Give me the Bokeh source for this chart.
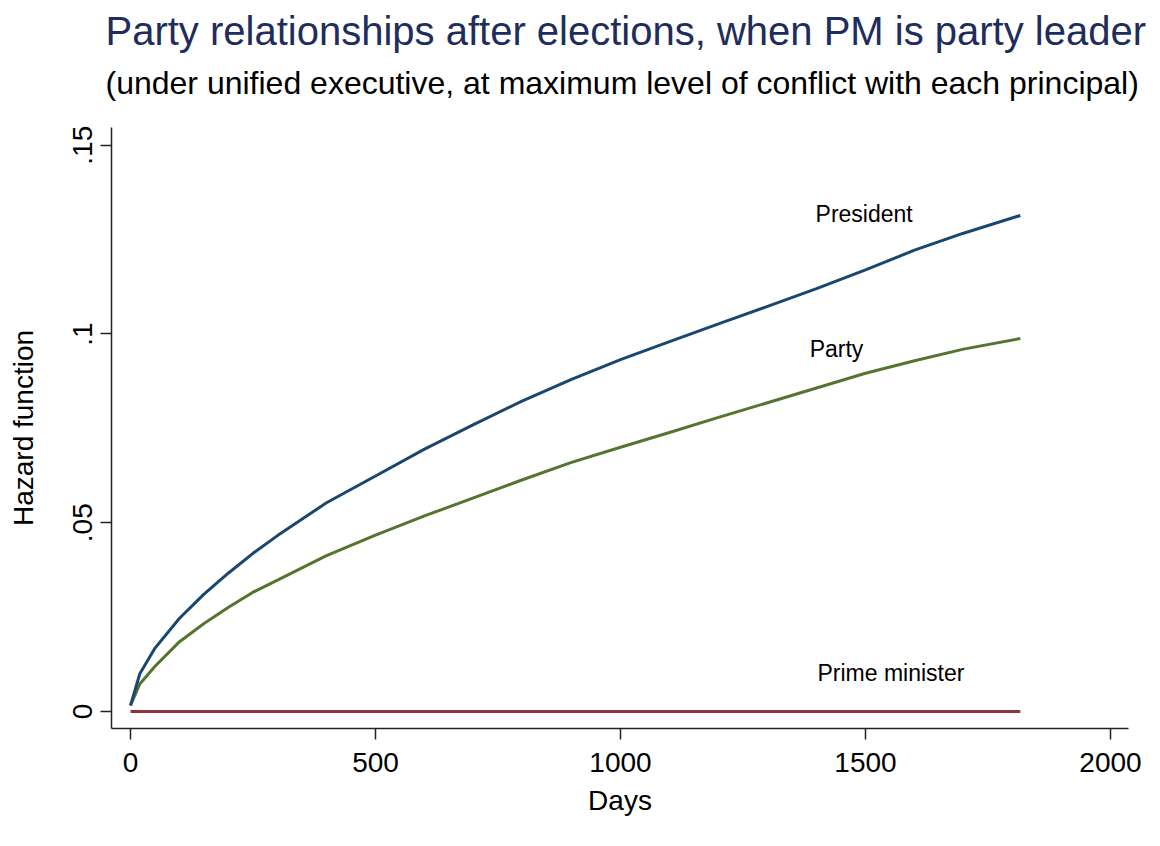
from bokeh.plotting import figure
from bokeh.models import Title, Range1d, FixedTicker, CustomJSTickFormatter, Label
from bokeh.embed import file_html
from bokeh.resources import INLINE

# ---- data ----
days = [0, 19, 50, 100, 150, 200, 250, 300, 400, 500, 600, 700, 800, 900,
        1000, 1100, 1200, 1300, 1400, 1500, 1600, 1700, 1816]
president = [0.0016, 0.0100, 0.0168, 0.0247, 0.0311, 0.0367, 0.0419, 0.0466,
             0.0553, 0.0624, 0.0695, 0.0760, 0.0823, 0.0880, 0.0932, 0.0980,
             0.1027, 0.1073, 0.1120, 0.1170, 0.1222, 0.1267, 0.1314]
party = [0.0016, 0.0073, 0.0120, 0.0185, 0.0233, 0.0276, 0.0316, 0.0348,
         0.0413, 0.0467, 0.0518, 0.0566, 0.0614, 0.0660, 0.0700, 0.0739,
         0.0779, 0.0818, 0.0857, 0.0896, 0.0929, 0.0960, 0.0988]
prime_minister = [0.0] * len(days)

x_ticks = [0, 500, 1000, 1500, 2000]
y_ticks = [0, 0.05, 0.1, 0.15]

title_text = "Party relationships after elections, when PM is party leader"
subtitle_text = "(under unified executive, at maximum level of conflict with each principal)"

FONT = "Liberation Sans"

p = figure(width=1155, height=840,
           x_range=Range1d(-38.8, 2036.7), y_range=Range1d(-0.0045, 0.1547),
           output_backend="svg", toolbar_location=None,
           min_border_left=111, min_border_right=27,
           min_border_bottom=112, min_border_top=127)

p.outline_line_color = None
p.xgrid.visible = False
p.ygrid.visible = False
p.background_fill_color = "white"
p.border_fill_color = "white"

# titles (added closest-first); first one is an empty spacer
p.add_layout(Title(text=" ", text_font_size="9px", text_font=FONT), "above")
p.add_layout(Title(text=subtitle_text, text_font_size="32px", text_font=FONT,
                   text_font_style="normal", text_color="black",
                   align="left", offset=-6), "above")
p.add_layout(Title(text=title_text, text_font_size="40px", text_font=FONT,
                   text_font_style="normal", text_color="#1e2d5c",
                   align="left", offset=-6), "above")

# lines
p.line(days, prime_minister, line_color="#90353b", line_width=3)
p.line(days, party, line_color="#55752f", line_width=3)
p.line(days, president, line_color="#1a476f", line_width=3)

for txt, xx, yy in [("President", 1398, 0.1317), ("Party", 1386, 0.0959),
                    ("Prime minister", 1402, 0.0103)]:
    p.add_layout(Label(x=xx, y=yy, text=txt, text_font=FONT, text_font_size="23px",
                       text_align="left", text_baseline="middle", text_color="black"))

for ax in (p.xaxis[0], p.yaxis[0]):
    ax.axis_line_color = "#222222"
    ax.axis_line_width = 1.5
    ax.major_tick_line_color = "#222222"
    ax.major_tick_line_width = 1.5
    ax.minor_tick_line_color = None
    ax.major_tick_in = 0
    ax.major_tick_out = 11
    ax.major_label_text_font = FONT
    ax.major_label_text_font_size = "28px"
    ax.major_label_text_color = "black"
    ax.axis_label_text_font = FONT
    ax.axis_label_text_font_size = "28px"
    ax.axis_label_text_font_style = "normal"
    ax.axis_label_text_color = "black"

p.xaxis.ticker = FixedTicker(ticks=x_ticks)
p.xaxis.axis_label = "Days"
p.xaxis.major_label_standoff = 13
p.xaxis.axis_label_standoff = 10

p.yaxis.ticker = FixedTicker(ticks=y_ticks)
p.yaxis.formatter = CustomJSTickFormatter(code="""
    if (tick == 0) return "0";
    return tick.toFixed(2).replace(/^0/, "").replace(/0$/, "");
""")
p.yaxis.major_label_orientation = "vertical"
p.yaxis.axis_label = "Hazard function"
p.yaxis.major_label_standoff = 8
p.yaxis.axis_label_standoff = 32

open("out.html", "w").write(file_html(p, INLINE))
